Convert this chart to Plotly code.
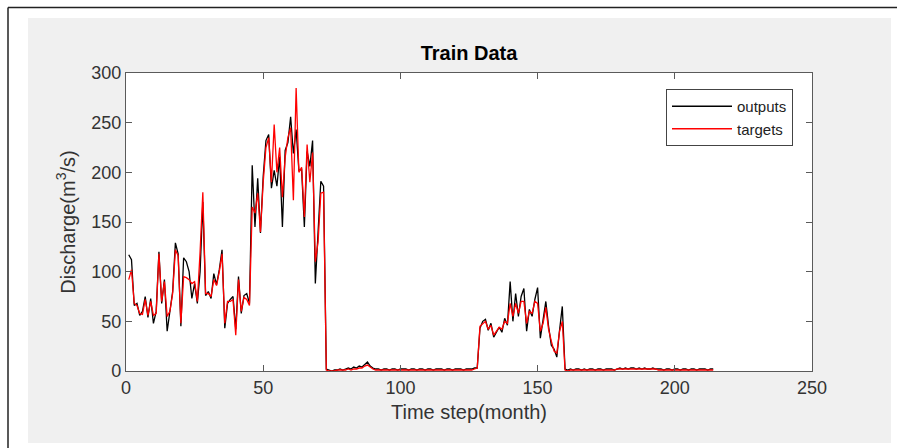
import plotly.graph_objects as go

months = list(range(1, 215))

outputs = [
    117, 112, 66, 68, 56, 60, 75, 54, 73, 48,
    60, 120, 68, 92, 40, 58, 80, 129, 118, 45,
    114, 110, 100, 73, 88, 68, 100, 170, 76, 80,
    73, 98, 87, 102, 122, 43, 68, 72, 75, 42,
    95, 58, 76, 78, 68, 207, 145, 194, 139, 196,
    232, 238, 184, 202, 186, 216, 145, 222, 230, 256,
    219, 243, 202, 203, 145, 221, 206, 232, 88, 140,
    191, 186, 2, 1, 0, 1, 1, 2, 1, 2,
    3, 2, 4, 3, 5, 4, 7, 9, 5, 3,
    2, 2, 1, 2, 2, 1, 2, 2, 1, 2,
    2, 2, 1, 2, 2, 1, 2, 2, 1, 2,
    2, 1, 2, 2, 2, 1, 2, 2, 1, 2,
    2, 2, 1, 2, 2, 2, 3, 3, 43, 50,
    52, 41, 48, 34, 39, 44, 39, 53, 46, 90,
    50, 78, 55, 75, 83, 40, 62, 55, 72, 84,
    33, 50, 70, 45, 26, 22, 14, 41, 65, 2,
    1, 2, 1, 2, 2, 1, 2, 1, 2, 2,
    1, 2, 2, 1, 2, 2, 2, 1, 2, 3,
    2, 3, 2, 3, 3, 2, 3, 2, 3, 2,
    2, 3, 2, 2, 2, 1, 2, 2, 1, 2,
    2, 1, 2, 2, 1, 2, 2, 1, 2, 2,
    2, 1, 2, 2,
]

targets = [
    92, 102, 68, 66, 58, 57, 72, 56, 70, 56,
    58, 118, 70, 90, 55, 60, 78, 122, 116, 48,
    95, 94, 92, 88, 90, 70, 120, 180, 78, 78,
    75, 92, 86, 100, 118, 48, 70, 70, 72, 36,
    92, 60, 74, 72, 66, 165, 159, 179, 140, 190,
    225, 235, 190, 248, 200, 225, 175, 215, 235, 245,
    172, 285, 200, 205, 155, 228, 190, 220, 110, 130,
    179, 180, 1, 0, 0, 0, 1, 1, 1, 1,
    2, 1, 2, 2, 3, 3, 5, 6, 4, 2,
    1, 1, 1, 1, 1, 1, 1, 1, 1, 1,
    1, 1, 1, 1, 1, 1, 1, 1, 1, 1,
    1, 1, 1, 1, 1, 1, 1, 1, 1, 1,
    1, 1, 1, 1, 1, 1, 2, 3, 45, 48,
    50, 42, 46, 36, 40, 44, 42, 50, 48, 68,
    55, 68, 58, 70, 70, 48, 60, 58, 70, 68,
    40, 48, 64, 42, 30, 20, 18, 40, 50, 1,
    0, 1, 1, 1, 1, 1, 1, 1, 1, 1,
    1, 1, 1, 1, 1, 1, 1, 1, 2, 2,
    2, 2, 2, 2, 2, 2, 2, 2, 2, 2,
    2, 2, 2, 1, 1, 1, 1, 1, 1, 1,
    1, 1, 1, 1, 1, 1, 1, 1, 1, 1,
    1, 1, 1, 1,
]

x_ticks = [0, 50, 100, 150, 200, 250]
y_ticks = [0, 50, 100, 150, 200, 250, 300]

FONT = "Liberation Sans, Arial, Helvetica, sans-serif"
W, H = 897, 448
L, R, T, B = 126, 812, 73, 371
pw, ph = R - L, B - T


def px(x):
    return (x - L) / pw


def py(y):
    return (B - y) / ph


fig = go.Figure()
fig.add_trace(go.Scatter(x=months, y=outputs, mode="lines", name="outputs",
                         line=dict(color="black", width=1.3)))
fig.add_trace(go.Scatter(x=months, y=targets, mode="lines", name="targets",
                         line=dict(color="#ff0000", width=1.3)))

shapes = [
    dict(type="rect", xref="paper", yref="paper", x0=px(28), x1=px(891),
         y0=py(443), y1=py(18), fillcolor="#f0f0f0", line=dict(width=0), layer="below"),
    dict(type="rect", xref="paper", yref="paper", x0=0, x1=1, y0=0, y1=1,
         fillcolor="white", line=dict(width=0), layer="below"),
    dict(type="line", xref="paper", yref="paper", x0=px(8), x1=px(897),
         y0=py(7.5), y1=py(7.5), line=dict(color="#222", width=1.5)),
    dict(type="line", xref="paper", yref="paper", x0=px(8), x1=px(8),
         y0=py(7.5), y1=py(448), line=dict(color="#222", width=1.5)),
]

axis_common = dict(
    showline=True, linecolor="#5a5a5a", linewidth=1.2, mirror="ticks",
    ticks="inside", ticklen=6, tickcolor="#5a5a5a", tickwidth=1.2,
    showgrid=False, zeroline=False,
    tickfont=dict(family=FONT, size=18, color="#333333"),
)

fig.update_layout(
    width=W, height=H,
    margin=dict(l=L, r=W - R, t=T, b=H - B),
    paper_bgcolor="white", plot_bgcolor="white",
    shapes=shapes,
    title=dict(text="<b>Train Data</b>", x=px(469), xref="paper", xanchor="center",
               y=1 - 53 / H, yref="container", yanchor="middle",
               font=dict(family=FONT, size=20, color="black")),
    xaxis=dict(range=[0, 250], tickvals=x_ticks, ticktext=[str(v) for v in x_ticks],
               title=dict(text="Time step(month)", standoff=8,
                          font=dict(family=FONT, size=20, color="#333333")),
               **axis_common),
    yaxis=dict(range=[0, 300], tickvals=y_ticks, ticktext=[str(v) for v in y_ticks],
               title=dict(text="Discharge(m<sup>3</sup>/s)", standoff=10,
                          font=dict(family=FONT, size=20, color="#333333")),
               **axis_common),
    legend=dict(x=px(793), xanchor="right", y=py(89), yanchor="top",
                bgcolor="white", bordercolor="#444", borderwidth=1,
                font=dict(family=FONT, size=15, color="#222"),
                itemwidth=60, tracegroupgap=0),
    showlegend=True,
)

fig.write_html("out.html")
